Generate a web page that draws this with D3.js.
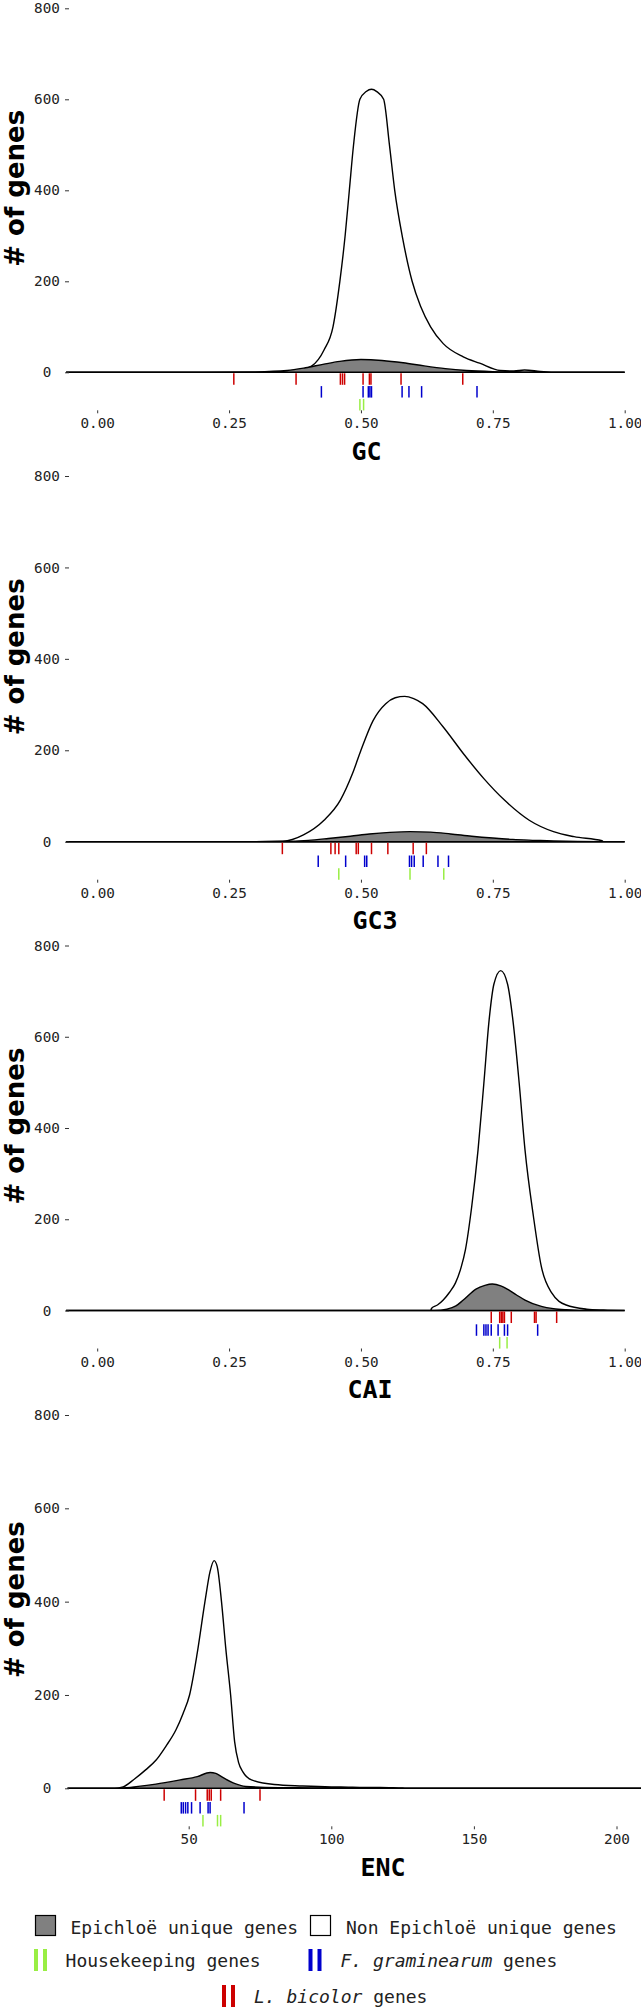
<!DOCTYPE html>
<html><head><meta charset="utf-8">
<script src="https://cdn.jsdelivr.net/npm/d3@7"></script>
<style>body{margin:0;background:#fff}svg{display:block}</style>
</head><body>
<script>
// ---------- DATA ----------
const panelNames = ["GC", "GC3", "CAI", "ENC"];
const fracTicks = [0, 0.25, 0.5, 0.75, 1];
const encTicks = [50, 100, 150, 200];
const yTicks = [0, 200, 400, 600, 800];

// densities: [x, # of genes]
const gcNonUnique = [[-0.059,0],[0.30,0],[0.36,1],[0.38,3],[0.407,14],[0.43,49],[0.447,100],[0.46,200],[0.47,300],[0.478,400],[0.486,500],[0.498,600],[0.51,617],[0.52,622],[0.53,617],[0.543,600],[0.554,500],[0.564,400],[0.579,295],[0.597,200],[0.613,145],[0.632,100],[0.656,63],[0.694,34],[0.725,20],[0.764,4],[0.79,3],[0.81,5],[0.84,2],[0.87,0],[1.0,0]];
const gcUnique = [[-0.059,0],[0.20,0],[0.30,1],[0.36,4],[0.395,10],[0.43,18],[0.46,24],[0.50,28],[0.54,26],[0.58,21],[0.62,14],[0.66,8],[0.70,4],[0.75,1.5],[0.80,0.5],[0.87,0],[1.0,0]];
const gc3NonUnique = [[-0.059,0],[0.30,0],[0.352,1],[0.391,15],[0.43,47],[0.461,91],[0.484,149],[0.50,200],[0.523,265],[0.547,302],[0.565,315],[0.583,318],[0.60,313],[0.617,302],[0.656,251],[0.694,193],[0.733,138],[0.772,91],[0.819,47],[0.865,22],[0.904,11],[0.957,2],[0.96,0],[1.0,0]];
const gc3Unique = [[-0.059,0],[0.30,0],[0.352,0.5],[0.40,3],[0.438,7],[0.48,12],[0.516,17],[0.555,20.5],[0.593,22],[0.632,21],[0.67,17],[0.71,12],[0.75,8],[0.788,5],[0.83,3],[0.865,1.5],[0.957,0],[1.0,0]];
const caiNonUnique = [[-0.059,0],[0.632,0],[0.634,5],[0.645,12],[0.656,23],[0.668,40],[0.679,60],[0.690,95],[0.698,133],[0.710,228],[0.722,352],[0.733,498],[0.743,637],[0.752,715],[0.765,745],[0.778,715],[0.788,637],[0.800,498],[0.811,352],[0.827,206],[0.842,96],[0.862,38],[0.889,12],[0.928,3],[0.96,1],[1.0,0]];
const caiUnique = [[-0.059,0],[0.64,0],[0.663,3],[0.68,10],[0.694,23],[0.718,47],[0.735,55],[0.749,58],[0.765,54],[0.780,45],[0.795,34],[0.811,23],[0.842,9],[0.865,4],[0.889,1.5],[0.92,0],[1.0,0]];
const encNonUnique = [[7.5,0],[24,0],[27,3],[31,20],[35,40],[38.5,60],[42,90],[45.5,125],[48,160],[50.3,200],[53,290],[55.7,400],[57.5,465],[58.9,488],[60,475],[61.5,400],[63,300],[64.7,200],[66.1,100],[67.5,55],[69,35],[72,18],[80,8],[90,5],[100,3],[106,2.5],[110,2],[117,2],[125,0.5],[130,0],[210,0]];
const encUnique = [[7.5,0],[24,0],[27,1],[38.5,9],[47,18],[53,25],[57.5,34],[59.5,32],[61.5,25],[65.8,11],[70,4],[81.6,1.5],[93,1],[106,0.5],[117,0.5],[125,0],[210,0]];

// rug values
const gcLbicolor = [0.259,0.377,0.461,0.465,0.469,0.504,0.516,0.519,0.576,0.693];
const gcFgram = [0.425,0.504,0.514,0.517,0.520,0.578,0.591,0.615,0.720];
const gcHouse = [0.498,0.505];
const gc3Lbicolor = [0.351,0.443,0.451,0.458,0.491,0.495,0.520,0.551,0.599,0.624];
const gc3Fgram = [0.419,0.471,0.507,0.511,0.592,0.596,0.601,0.618,0.646,0.666];
const gc3House = [0.458,0.593,0.657];
const caiLbicolor = [0.747,0.763,0.766,0.769,0.772,0.785,0.829,0.832,0.871];
const caiFgram = [0.719,0.733,0.737,0.741,0.747,0.760,0.772,0.778,0.835];
const caiHouse = [0.763,0.777];
const encLbicolor = [41.4,52.4,56.5,57.2,57.9,61.2,75.0];
const encFgram = [47.4,48.1,48.9,49.7,51.0,54.0,56.8,57.5,69.4];
const encHouse = [55.0,60.1,61.2];

// ---------- LAYOUT ----------
const W = 641, H = 2009;
const layout = [
  {zero:372.3, top:8.3, titleX:366.6, xr:[97.2,624.7], xd:[0,1], ticks:fracTicks, fmt:d3.format(".2f")},
  {zero:841.7, top:476, titleX:375, xr:[97.2,624.7], xd:[0,1], ticks:fracTicks, fmt:d3.format(".2f")},
  {zero:1310.5, top:945.5, titleX:370, xr:[97.2,624.7], xd:[0,1], ticks:fracTicks, fmt:d3.format(".2f")},
  {zero:1788.3, top:1415, titleX:383, xr:[188.7,616.5], xd:[50,200], ticks:encTicks, fmt:d3.format("d")}
];
const dens = [[gcNonUnique,gcUnique],[gc3NonUnique,gc3Unique],[caiNonUnique,caiUnique],[encNonUnique,encUnique]];
const rugs = [[gcLbicolor,gcFgram,gcHouse],[gc3Lbicolor,gc3Fgram,gc3House],[caiLbicolor,caiFgram,caiHouse],[encLbicolor,encFgram,encHouse]];
const RED = "#cd0000", BLUE = "#0000cd", GREEN = "#99ee44", GRAY = "#808080";
const rugColors = [RED, BLUE, GREEN];
const MONO = "'DejaVu Sans Mono', monospace";
const TICK_FS = 14.3;

const svg = d3.select("body").append("svg").attr("width", W).attr("height", H);

layout.forEach((L, i) => {
  const g = svg.append("g");
  const x = d3.scaleLinear().domain(L.xd).range(L.xr);
  const y = d3.scaleLinear().domain([0, 800]).range([L.zero, L.top]);

  const area = d3.area().x(d => x(d[0])).y0(y(0)).y1(d => y(d[1])).curve(d3.curveMonotoneX);
  g.append("path").datum(dens[i][0]).attr("d", area)
    .attr("fill", "#fff").attr("stroke", "#000").attr("stroke-width", 1.4);
  g.append("path").datum(dens[i][1]).attr("d", area)
    .attr("fill", GRAY).attr("stroke", "#000").attr("stroke-width", 1.4);

  // rugs
  rugs[i].forEach((vals, k) => {
    g.selectAll(null).data(vals).enter().append("line")
      .attr("x1", d => x(d)).attr("x2", d => x(d))
      .attr("y1", L.zero + 1 + k * 12.8).attr("y2", L.zero + 12.5 + k * 12.8)
      .attr("stroke", rugColors[k]).attr("stroke-width", 1.5);
  });

  // x axis
  const xa = g.append("g").attr("transform", `translate(0,${L.zero + 38})`)
    .call(d3.axisBottom(x).tickValues(L.ticks).tickFormat(L.fmt).tickSize(3).tickPadding(5));
  xa.select(".domain").remove();
  xa.selectAll(".tick line").attr("stroke", "#333");
  xa.selectAll("text").attr("font-family", MONO).attr("font-size", TICK_FS).attr("fill", "#222");

  // y axis
  const ya = g.append("g").attr("transform", `translate(69,0)`)
    .call(d3.axisLeft(y).tickValues(yTicks).tickSize(4).tickPadding(3));
  ya.select(".domain").remove();
  ya.selectAll(".tick line").attr("stroke", "#333");
  ya.selectAll("text").attr("font-family", MONO).attr("font-size", TICK_FS).attr("fill", "#222")
    .attr("text-anchor", "middle").attr("x", -22);

  // titles
  g.append("text").attr("x", L.titleX).attr("y", L.zero + 79)
    .attr("text-anchor", "middle").attr("dominant-baseline", "central")
    .attr("font-family", MONO).attr("font-weight", "bold").attr("font-size", 25)
    .text(panelNames[i]);
  g.append("text").attr("transform", `translate(24,${(L.zero + L.top) / 2 - 2}) rotate(-90)`)
    .attr("text-anchor", "middle")
    .attr("font-family", "'DejaVu Sans', sans-serif").attr("font-weight", "bold").attr("font-size", 26)
    .text("# of genes");
});

// ---------- LEGEND ----------
const lg = svg.append("g").attr("font-family", MONO).attr("font-size", 18).attr("fill", "#222");
lg.append("rect").attr("x", 35.5).attr("y", 1915.5).attr("width", 20).attr("height", 20)
  .attr("fill", GRAY).attr("stroke", "#000").attr("stroke-width", 1.2);
lg.append("text").attr("x", 70.5).attr("y", 1927).attr("dominant-baseline", "central").text("Epichloë unique genes");
lg.append("rect").attr("x", 310.5).attr("y", 1915.5).attr("width", 20).attr("height", 20)
  .attr("fill", "#fff").attr("stroke", "#000").attr("stroke-width", 1.2);
lg.append("text").attr("x", 346).attr("y", 1927).attr("dominant-baseline", "central").text("Non Epichloë unique genes");

function bars(x0, y0, color) {
  [0, 9].forEach(dx => lg.append("rect").attr("x", x0 + dx).attr("y", y0).attr("width", 4).attr("height", 22).attr("fill", color));
}
bars(34, 1949, GREEN);
lg.append("text").attr("x", 65.6).attr("y", 1960).attr("dominant-baseline", "central").text("Housekeeping genes");
bars(308.5, 1949, BLUE);
const t2 = lg.append("text").attr("x", 340.5).attr("y", 1960).attr("dominant-baseline", "central");
t2.append("tspan").attr("font-style", "italic").text("F. graminearum");
t2.append("tspan").text(" genes");
bars(222, 1985, RED);
const t3 = lg.append("text").attr("x", 254).attr("y", 1996).attr("dominant-baseline", "central");
t3.append("tspan").attr("font-style", "italic").text("L. bicolor");
t3.append("tspan").text(" genes");
</script>
</body></html>
